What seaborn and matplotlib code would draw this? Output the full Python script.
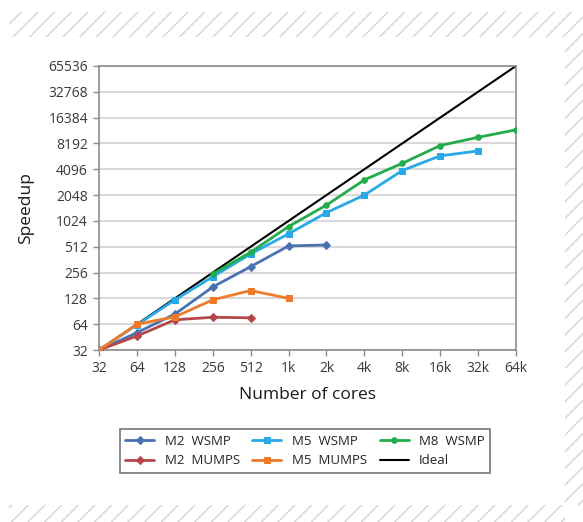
import numpy as np
import pandas as pd
import matplotlib
matplotlib.use("Agg")
import matplotlib.pyplot as plt
from matplotlib.patches import Rectangle
import seaborn as sns

# cores on x axis (log2), speedup on y axis (log2)
cores_all = [32, 64, 128, 256, 512, 1024, 2048, 4096, 8192, 16384, 32768, 65536]
x_labels = ["32", "64", "128", "256", "512", "1k", "2k", "4k", "8k", "16k", "32k", "64k"]
y_ticks = [32, 64, 128, 256, 512, 1024, 2048, 4096, 8192, 16384, 32768, 65536]

m2_wsmp_cores = [32, 64, 128, 256, 512, 1024, 2048]
m2_wsmp = [32, 51, 84, 174, 300, 523, 537]

m5_wsmp_cores = [32, 64, 128, 256, 512, 1024, 2048, 4096, 8192, 16384, 32768]
m5_wsmp = [32, 63, 123, 229, 422, 724, 1278, 2048, 3960, 5870, 6700]

m8_wsmp_cores = [256, 512, 1024, 2048, 4096, 8192, 16384, 32768, 65536]
m8_wsmp = [247, 442, 880, 1565, 3080, 4800, 7740, 9660, 11800]

m2_mumps_cores = [32, 64, 128, 256, 512]
m2_mumps = [32, 46.6, 72, 77, 76]

m5_mumps_cores = [32, 64, 128, 256, 512, 1024]
m5_mumps = [32, 64, 78, 123, 158, 128]

sns.set_style("white")
plt.rcParams['font.family'] = ['Open Sans', 'DejaVu Sans']
plt.rcParams['hatch.linewidth'] = 1.0

fig = plt.figure(figsize=(5.83, 5.22), dpi=100)
ax = fig.add_axes([0.170, 0.3295, 0.715, 0.5441])

# hatched frame (top, right, bottom)
hatch_col = '#d4d4d4'
for (x0, y0, w, h) in [(9/583, 1-37/522, 574/583, 25/522),
                       (565/583, 17/522, 18/583, 468/522),
                       (9/583, 0, 556/583, 17/522)]:
    fig.patches.append(Rectangle((x0, y0), w, h, transform=fig.transFigure,
                                 hatch='//', fill=False, edgecolor=hatch_col, lw=0))

series = [
    ("M2  WSMP", m2_wsmp_cores, m2_wsmp, '#4a72b0', 'D', 5.5),
    ("M5  WSMP", m5_wsmp_cores, m5_wsmp, '#2aa9e6', 's', 6),
    ("M8  WSMP", m8_wsmp_cores, m8_wsmp, '#23ad4a', 'o', 6.5),
    ("M2  MUMPS", m2_mumps_cores, m2_mumps, '#b5474a', 'D', 5.5),
    ("M5  MUMPS", m5_mumps_cores, m5_mumps, '#ee7b2c', 's', 6),
]

# ideal line first so it sits under the data
sns.lineplot(x=cores_all, y=cores_all, ax=ax, color='black', lw=1.5,
             label="Ideal", zorder=2)
for name, xs, ys, col, mk, ms in series:
    sns.lineplot(x=xs, y=ys, ax=ax, color=col, marker=mk, markersize=ms,
                 markeredgecolor=col, lw=2, label=name, zorder=3)

ax.set_xscale('log', base=2)
ax.set_yscale('log', base=2)
ax.set_xlim(32, 65536)
ax.set_ylim(32, 65536)
ax.set_xticks(cores_all)
ax.set_xticklabels(x_labels)
ax.set_yticks(y_ticks)
ax.set_yticklabels([str(v) for v in y_ticks])
ax.minorticks_off()

ax.yaxis.grid(True, color='#d9d9d9', lw=1.5)
ax.xaxis.grid(False)
ax.set_axisbelow(True)
for s in ax.spines.values():
    s.set_color('#8c8c8c')
    s.set_linewidth(1.2)
ax.tick_params(axis='both', direction='out', length=4, width=1, color='#8c8c8c',
               labelsize=10, labelcolor='#3a3a3a', pad=4, left=True, bottom=True)

ax.set_xlabel("Number of cores", fontsize=12.5, color='#1a1a1a', labelpad=8)
ax.set_ylabel("Speedup", fontsize=12.5, color='#1a1a1a', labelpad=10)

handles, labels = ax.get_legend_handles_labels()
ax.get_legend().remove()
order = ["M2  WSMP", "M2  MUMPS", "M5  WSMP", "M5  MUMPS", "M8  WSMP", "Ideal"]
hmap = dict(zip(labels, handles))
for h in hmap.values():
    h.set_markersize(4)
leg = fig.legend([hmap[k] for k in order], order, ncol=3, loc='center',
                 bbox_to_anchor=(120/583, 1-479/522, 370/583, 56/522), mode='expand',
                 frameon=True, fancybox=False, fontsize=9.5, handlelength=2.2,
                 borderaxespad=0, columnspacing=1.5, labelspacing=0.5)
leg.get_frame().set_edgecolor('#555555')
leg.get_frame().set_linewidth(1.2)

fig.savefig("out.png", dpi=100)
